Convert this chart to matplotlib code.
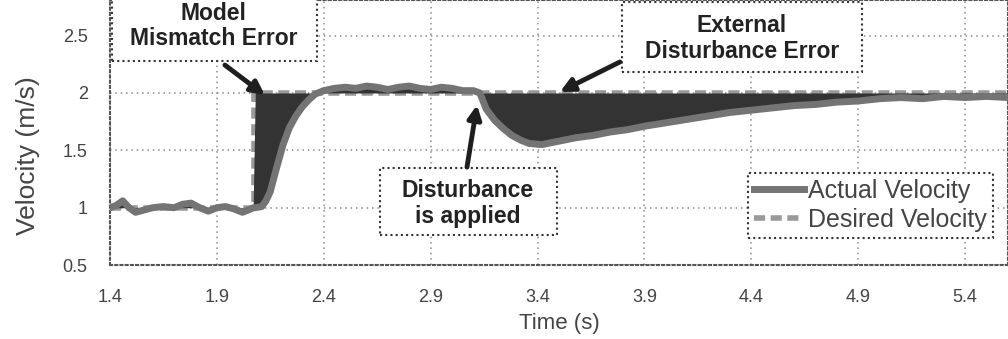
import numpy as np
import matplotlib
matplotlib.use("Agg")
import matplotlib.pyplot as plt
from matplotlib.patches import Rectangle

plt.rcParams['font.family'] = ['Liberation Sans', 'DejaVu Sans']

time_s = [1.40, 1.43, 1.46, 1.49, 1.52, 1.56, 1.60, 1.65, 1.70, 1.74, 1.78, 1.82,
          1.86, 1.90, 1.94, 1.98, 2.02, 2.06, 2.07, 2.08, 2.11, 2.13, 2.15, 2.18,
          2.21, 2.24, 2.27, 2.30, 2.33, 2.36, 2.40, 2.45, 2.50, 2.55, 2.60, 2.65,
          2.70, 2.75, 2.80, 2.85, 2.90, 2.95, 3.00, 3.05, 3.10, 3.13, 3.16, 3.20,
          3.24, 3.28, 3.32, 3.36, 3.42, 3.50, 3.58, 3.66, 3.74, 3.82, 3.90, 4.00,
          4.10, 4.20, 4.30, 4.40, 4.50, 4.60, 4.70, 4.80, 4.90, 5.00, 5.10, 5.20,
          5.30, 5.40, 5.50, 5.60]
actual_v = [1.00, 1.02, 1.06, 1.00, 0.96, 0.98, 1.00, 1.01, 1.00, 1.03, 1.04, 1.00,
            0.97, 1.00, 1.01, 0.99, 0.96, 0.99, 1.00, 1.00, 1.01, 1.06, 1.14, 1.35,
            1.55, 1.70, 1.80, 1.88, 1.94, 1.99, 2.02, 2.04, 2.05, 2.04, 2.06, 2.05,
            2.03, 2.05, 2.06, 2.04, 2.03, 2.05, 2.04, 2.02, 2.02, 2.00, 1.86, 1.76,
            1.69, 1.63, 1.59, 1.56, 1.55, 1.58, 1.61, 1.63, 1.66, 1.68, 1.71, 1.74,
            1.77, 1.80, 1.83, 1.85, 1.87, 1.89, 1.90, 1.92, 1.93, 1.95, 1.96, 1.95,
            1.97, 1.96, 1.97, 1.96]

# desired velocity: step from 1 to 2 m/s
step_t = 2.075
desired_t = [1.40, step_t, step_t, 5.60]
desired_v = [1.0, 1.0, 2.0, 2.0]

x_ticks = [1.4, 1.9, 2.4, 2.9, 3.4, 3.9, 4.4, 4.9, 5.4]
x_labels = ['1.4', '1.9', '2.4', '2.9', '3.4', '3.9', '4.4', '4.9', '5.4']
y_ticks = [0.5, 1.0, 1.5, 2.0, 2.5]
y_labels = ['0.5', '1', '1.5', '2', '2.5']

t = np.array(time_s)
v = np.array(actual_v)
v_des = np.where(t <= step_t, desired_v[0], desired_v[-1])

fig = plt.figure(figsize=(10.08, 3.39), dpi=100)
ax = fig.add_axes([0.109, 0.218, 0.891, 0.782])

ax.plot(desired_t, desired_v, color='#999999', lw=4, ls=(0, (2, 1)), zorder=2,
        label='Desired Velocity')
ax.fill_between(t, v, v_des, color='#333333', lw=0, zorder=3)
ax.plot(t, v, color='#747474', lw=5, zorder=4, label='Actual Velocity')

ax.set_xlim(1.4, 5.6)
ax.set_ylim(0.5, 2.81)
ax.set_xticks(x_ticks)
ax.set_xticklabels(x_labels)
ax.set_yticks(y_ticks)
ax.set_yticklabels(y_labels)
ax.tick_params(length=0, labelsize=13, colors='#444444')
ax.tick_params(axis='x', pad=17)
ax.tick_params(axis='y', pad=16)
ax.grid(True, color='#8a8a8a', lw=1.1, ls=(0, (1, 2.5)))
ax.set_axisbelow(True)
for sp in ax.spines.values():
    sp.set_linestyle((0, (1, 1.5)))
    sp.set_color('#555555')
    sp.set_linewidth(1.5)

ax.set_xlabel('Time (s)', fontsize=16, color='#444444')
ax.xaxis.set_label_coords(0.501, -0.18)
ax.set_ylabel('Velocity (m/s)', fontsize=19, color='#444444')
ax.yaxis.set_label_coords(-0.078, 0.413)

# legend, actual first
h, l = ax.get_legend_handles_labels()
leg = ax.legend(h[::-1], l[::-1], loc='lower right', bbox_to_anchor=(0.983, 0.102),
                fontsize=18, handlelength=2.0, handletextpad=0.15, borderpad=0.25,
                labelspacing=0.2, borderaxespad=0, fancybox=False, framealpha=1)
leg.get_frame().set_linestyle((0, (1, 1.5)))
leg.get_frame().set_edgecolor('#333333')
leg.get_frame().set_linewidth(1.5)
for txt in leg.get_texts():
    txt.set_color('#444444')

# annotation boxes
boxes = [
    ((1.409, 2.278), 0.959, 0.70, 'Model\nMismatch Error', (1.886, 2.583)),
    ((3.795, 2.182), 1.122, 0.611, 'External\nDisturbance Error', (4.356, 2.474)),
    ((2.663, 0.761), 0.828, 0.584, 'Disturbance\nis applied', (3.074, 1.036)),
]
for (x0, y0), w, hgt, label, (tx, ty) in boxes:
    ax.add_patch(Rectangle((x0, y0), w, hgt, facecolor='white', edgecolor='#333333',
                           lw=1.5, ls=(0, (1, 1.5)), zorder=6, clip_on=False))
    ax.text(tx, ty, label, ha='center', va='center', fontsize=16.5, fontweight='bold',
            color='#222222', linespacing=1.15, zorder=7)

arrows = [((1.938, 2.243), (2.125, 1.98)),
          ((3.785, 2.27), (3.505, 2.01)),
          ((3.07, 1.354), (3.117, 1.895))]
for start, end in arrows:
    ax.annotate('', xy=end, xytext=start, zorder=8,
                arrowprops=dict(arrowstyle='-|>', lw=3.5, color='#1e1e1e',
                                mutation_scale=20, shrinkA=0, shrinkB=0))

fig.savefig('out.png', dpi=100)
